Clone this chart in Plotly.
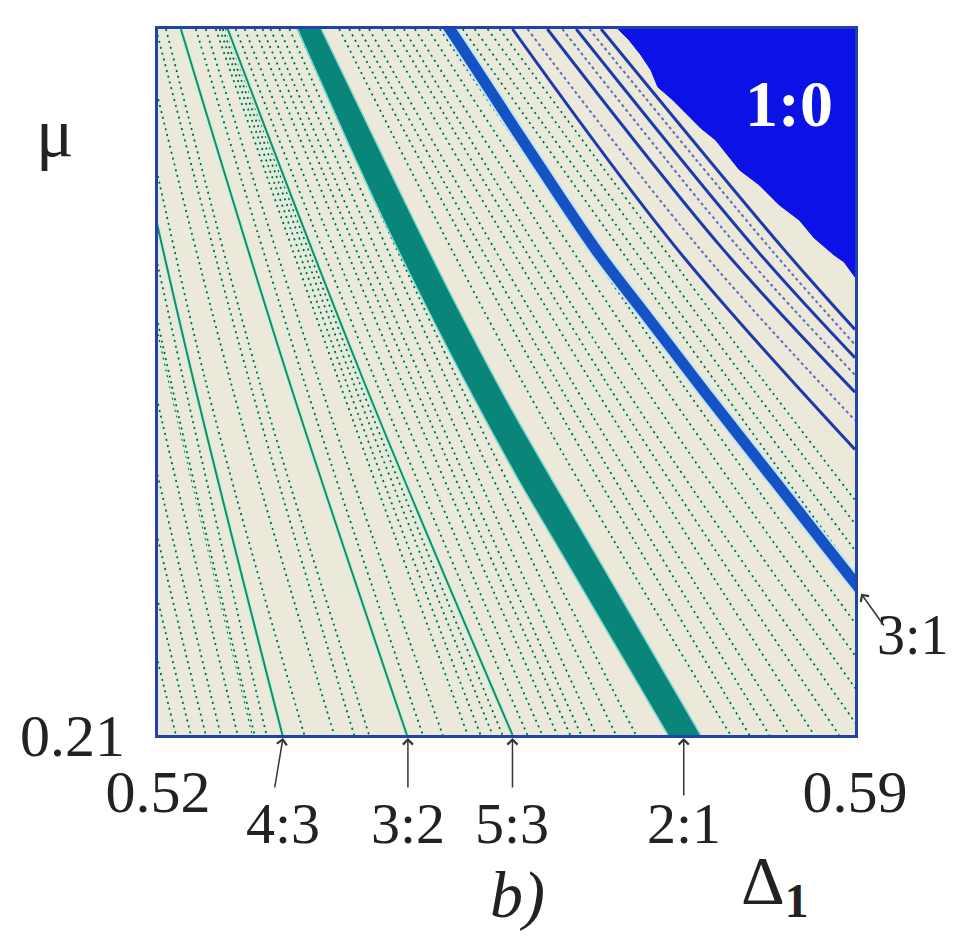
import plotly.graph_objects as go

# ---------------- data (Δ1 , μ) ----------------
MU_LEVELS = [0.28, 0.245, 0.21]          # top, middle, bottom of the window

# resonance tongue 2:1 (left / right boundary)
mu_21 = [0.28, 0.26305, 0.25313, 0.24322, 0.23528, 0.22904, 0.21]
d_21_left = [0.5340, 0.5417, 0.5466, 0.5518, 0.5562, 0.5599, 0.5712]
d_21_right = [0.5364, 0.5447, 0.5497, 0.5550, 0.5596, 0.5633, 0.5745]

# resonance 3:1 (centre line)
mu_31 = [0.28238, 0.28, 0.2690, 0.25809, 0.25164, 0.24391, 0.23499, 0.22834, 0.22269]
d_31 = [0.5476, 0.5493, 0.5566, 0.5640, 0.5690, 0.5750, 0.5821, 0.5874, 0.5919]

# region 1:0 (boundary, then corner)
mu_10 = [0.28, 0.27891, 0.27742, 0.27593, 0.27425, 0.27296, 0.27018, 0.26899,
         0.26602, 0.26453, 0.26255, 0.26106, 0.25928, 0.25759, 0.2569, 0.25541, 0.28]
d_10 = [0.5662, 0.5673, 0.5685, 0.5695, 0.5702, 0.5717, 0.5745, 0.5760,
        0.5784, 0.5804, 0.5824, 0.5844, 0.5859, 0.5879, 0.5889, 0.5900, 0.5900]

# thin resonance lines 4:3, 3:2, 5:3  (Δ at MU_LEVELS)
thin_names = ["4:3", "3:2", "5:3"]
thin_lines = [
    [0.5155, 0.5236, 0.5325],
    [0.5223, 0.5332, 0.5450],
    [0.5270, 0.5407, 0.5556],
]

# dotted high-order resonance lines (Δ at MU_LEVELS)
dotted_lines = [
    [0.5059, 0.5133, 0.5218], [0.5074, 0.5148, 0.5233], [0.5089, 0.5163, 0.5248],
    [0.5104, 0.5178, 0.5263], [0.5118, 0.5195, 0.5280], [0.5133, 0.5211, 0.5295],
    [0.5148, 0.5226, 0.5309],
    [0.5138, 0.5213, 0.5297], [0.5168, 0.5248, 0.5347], [0.5183, 0.5273, 0.5377],
    [0.5198, 0.5292, 0.5397], [0.5208, 0.5302, 0.5412], [0.5238, 0.5347, 0.5466],
    [0.5248, 0.5362, 0.5486], [0.5258, 0.5382, 0.5511],
    [0.5262, 0.5389, 0.5524], [0.5265, 0.5396, 0.5536], [0.5268, 0.5402, 0.5546],
    [0.5278, 0.5419, 0.5571],
    [0.5287, 0.5432, 0.5586], [0.5297, 0.5445, 0.5601], [0.5305, 0.5456, 0.5614],
    [0.5313, 0.5466, 0.5625], [0.5322, 0.5478, 0.5640], [0.5332, 0.5491, 0.5660],
    [0.5340, 0.5502, 0.5680],
    [0.5382, 0.5566, 0.5775], [0.5392, 0.5586, 0.5794], [0.5402, 0.5601, 0.5814],
    [0.5412, 0.5616, 0.5834], [0.5425, 0.5635, 0.5859], [0.5437, 0.5650, 0.5884],
    [0.5447, 0.5665, 0.5909], [0.5458, 0.5685, 0.5934], [0.5471, 0.5705, 0.5958],
    [0.5483, 0.5725, 0.5983],
    [0.5506, 0.5760, 0.6018], [0.5518, 0.5775, 0.6038], [0.5531, 0.5792, 0.6063],
    [0.5543, 0.5809, 0.6083],
]

# thin blue lines near the 1:0 region (Δ list, μ list)
blue_d = [[0.5556, 0.5722, 0.5900], [0.5591, 0.5768, 0.5900],
          [0.5620, 0.5801, 0.5900], [0.5645, 0.5829, 0.5900]]
blue_mu = [[0.28, 0.2581, 0.2383], [0.28, 0.2581, 0.2440],
           [0.28, 0.2581, 0.2474], [0.28, 0.2581, 0.2502]]
blue_dot_d = [[0.5571, 0.5745, 0.5900], [0.5606, 0.5785, 0.5900], [0.5633, 0.5816, 0.5900]]
blue_dot_mu = [[0.28, 0.2581, 0.2412], [0.28, 0.2581, 0.2457], [0.28, 0.2581, 0.2487]]

# labels of marked resonances on the Δ1 axis
res_labels = ["4:3", "3:2", "5:3", "2:1"]
res_pos = [0.5326, 0.5451, 0.5556, 0.5728]

x_ticks = [0.52, 0.59]
y_ticks = [0.21, 0.28]

# ---------------- figure ----------------
fig = go.Figure()

for d in dotted_lines:
    fig.add_trace(go.Scatter(x=d, y=MU_LEVELS, mode="lines",
                             line=dict(color="#d6f2dc", width=3.5, shape="spline"),
                             hoverinfo="skip"))
    fig.add_trace(go.Scatter(x=d, y=MU_LEVELS, mode="lines",
                             line=dict(color="#2e4842", width=1.7, dash="2px,4px",
                                       shape="spline"),
                             hoverinfo="skip"))

for d, name in zip(thin_lines, thin_names):
    fig.add_trace(go.Scatter(x=d, y=MU_LEVELS, mode="lines", name=name,
                             line=dict(color="#c6f3e4", width=5, shape="spline"),
                             hoverinfo="skip"))
    fig.add_trace(go.Scatter(x=d, y=MU_LEVELS, mode="lines", name=name,
                             line=dict(color="#1f8a62", width=2, shape="spline")))

for d, m in zip(blue_dot_d, blue_dot_mu):
    fig.add_trace(go.Scatter(x=d, y=m, mode="lines",
                             line=dict(color="#5a6cc0", width=2, dash="3px,3px",
                                       shape="spline"), hoverinfo="skip"))
for d, m in zip(blue_d, blue_mu):
    fig.add_trace(go.Scatter(x=d, y=m, mode="lines",
                             line=dict(color="#1c3aae", width=3, shape="spline")))

# 2:1 tongue: left boundary, then right boundary filled back to it
fig.add_trace(go.Scatter(x=d_21_left, y=mu_21, mode="lines", name="2:1",
                         line=dict(color="#7fd8cf", width=1.5, shape="spline")))
fig.add_trace(go.Scatter(x=d_21_right, y=mu_21, mode="lines", name="2:1",
                         fill="tonextx", fillcolor="#0a857a",
                         line=dict(color="#7fd8cf", width=1.5, shape="spline")))
# 3:1 line
fig.add_trace(go.Scatter(x=d_31, y=mu_31, mode="lines", name="3:1",
                         line=dict(color="#c4e6f4", width=15, shape="spline"),
                         hoverinfo="skip"))
fig.add_trace(go.Scatter(x=d_31, y=mu_31, mode="lines", name="3:1",
                         line=dict(color="#1553c4", width=11, shape="spline")))
# 1:0 region
fig.add_trace(go.Scatter(x=d_10, y=mu_10, mode="lines", fill="toself",
                         fillcolor="#0a12e6", line=dict(color="#0a12e6", width=1),
                         name="1:0"))

serif = "Liberation Serif, Times New Roman, serif"
axis_common = dict(showgrid=False, zeroline=False, showline=True, mirror=True,
                   linecolor="#2142aa", linewidth=3, ticks="",
                   tickfont=dict(family=serif, size=60, color="#222"))
fig.update_layout(
    width=954, height=938,
    margin=dict(l=141, r=107, t=21, b=211),
    paper_bgcolor="white", plot_bgcolor="#ece8da",
    showlegend=False,
    xaxis=dict(range=[0.52, 0.59], tickvals=x_ticks,
               ticktext=[f"{v:.2f}" for v in x_ticks], ticklabelstandoff=2,
               **axis_common),
    yaxis=dict(range=[0.21, 0.28], tickvals=y_ticks,
               ticktext=[f"{v:.2f}" for v in y_ticks], ticklabelstandoff=18,
               **axis_common),
)

def label(x, y, text, size, xref="paper", yref="paper", color="#222"):
    return dict(x=x, y=y, xref=xref, yref=yref, text=text, showarrow=False,
                xanchor="center", yanchor="middle",
                font=dict(family=serif, size=size, color=color))

ann = []
ann.append(label(-0.1477, 0.8527, "μ", 70))
for lab, pos in zip(res_labels, res_pos):
    ann.append(label(pos, -0.126, lab, 58, xref="x"))
    ann.append(dict(x=pos, y=0.21, xref="x", yref="y", text="", showarrow=True,
                    ax=-9 if lab == "4:3" else 0, ay=62 if lab == "2:1" else 54,
                    arrowhead=4, arrowsize=1.3, arrowwidth=1.5, arrowcolor="#333",
                    standoff=3))
ann.append(label(1.0838, 0.1416, "3:1", 56))
ann.append(dict(x=1.0071, y=0.2025, xref="paper", yref="paper", text="", showarrow=True,
                ax=25, ay=35, arrowhead=4, arrowsize=1.3, arrowwidth=1.5,
                arrowcolor="#333", standoff=2))
ann.append(label(0.5834, 0.2726, "<b>1:0</b>", 66, xref="x", yref="y", color="white"))
ann.append(label(0.5156, -0.2266, "<i>b)</i>", 66))
ann.append(label(0.885, -0.212, "Δ<sub><b>1</b></sub>", 68))
fig.update_layout(annotations=ann)

fig.write_html("out.html")
